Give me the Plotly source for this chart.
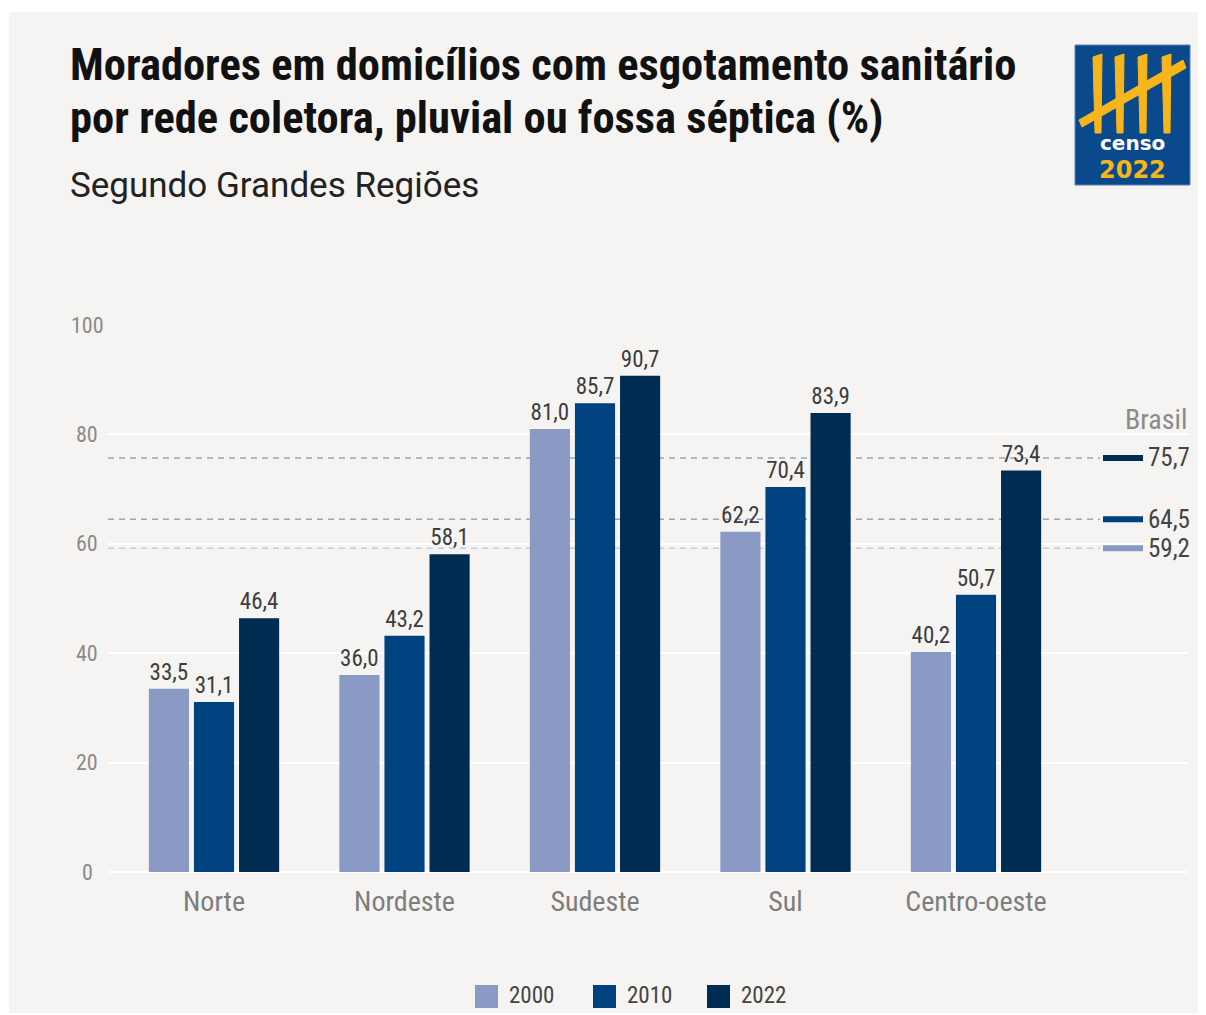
import plotly.graph_objects as go

# ---------------- data ----------------
regions = ["Norte", "Nordeste", "Sudeste", "Sul", "Centro-oeste"]
years = ["2000", "2010", "2022"]
v2000 = [33.5, 36.0, 81.0, 62.2, 40.2]
v2010 = [31.1, 43.2, 85.7, 70.4, 50.7]
v2022 = [46.4, 58.1, 90.7, 83.9, 73.4]
brasil = [59.2, 64.5, 75.7]          # 2000, 2010, 2022
y_ticks = [0, 20, 40, 60, 80, 100]

colors = ["#8a9ac5", "#00417f", "#002c51"]
dash_colors = ["#c3cbe3", "#93a7c0", "#93a7c0"]

FONT = "Roboto Condensed, Liberation Sans Narrow, DejaVu Sans Condensed, Arial Narrow, sans-serif"
FONT_SUB = "Roboto, Liberation Sans, sans-serif"

OFF = 8                      # page body margin
W, H = 1206 - OFF, 1013 - OFF
# plot area in page pixels
PL, PR, PT, PB = 108, 1188, 325, 872
L, R, T, B = PL - OFF, PR - OFF, PT - OFF, PB - OFF


def px(x):
    return (x - OFF - L) / (R - L)


def py(y):
    return (B - (y - OFF)) / (B - T)


def fmt(v):
    return f"{v:.1f}".replace(".", ",")


fig = go.Figure()
for name, vals, col in zip(years, [v2000, v2010, v2022], colors):
    fig.add_trace(go.Bar(
        x=regions, y=vals, name=name, marker=dict(color=col, line=dict(width=0)),
        text=[fmt(v) for v in vals], textposition="outside",
        textfont=dict(family=FONT, size=23, color="#3d3d3d"),
        cliponaxis=False, showlegend=False,
    ))

shapes = []
annotations = []

# thin white strips at top/left (page frame)
shapes.append(dict(type="rect", xref="paper", yref="paper", x0=px(8), x1=px(9), y0=py(8), y1=py(1013),
                   fillcolor="white", line=dict(width=0), layer="below"))
shapes.append(dict(type="rect", xref="paper", yref="paper", x0=px(8), x1=px(1206), y0=py(8), y1=py(12),
                   fillcolor="white", line=dict(width=0), layer="below"))

# Brasil reference lines
for val, dc, col in zip(brasil, dash_colors, colors):
    shapes.append(dict(type="line", xref="paper", yref="y", x0=0, x1=px(1100), y0=val, y1=val,
                       line=dict(color=dc, width=1.5, dash="6px,5px"), layer="between"))
    shapes.append(dict(type="line", xref="paper", yref="y", x0=px(1103), x1=px(1143), y0=val, y1=val,
                       line=dict(color=col, width=6), layer="above"))
    annotations.append(dict(xref="paper", yref="y", x=px(1146), y=val, text=fmt(val), showarrow=False,
                            xanchor="left", yanchor="middle",
                            font=dict(family=FONT, size=25, color="#444444")))
annotations.append(dict(xref="paper", yref="paper", x=px(1189), y=py(419), text="Brasil", showarrow=False,
                        xanchor="right", yanchor="middle",
                        font=dict(family=FONT, size=28, color="#8a8a8a")))

# y tick labels (centered like in the original)
for t in y_ticks:
    annotations.append(dict(xref="paper", yref="y", x=px(87), y=t, text=str(t), showarrow=False,
                            xanchor="center", yanchor="middle",
                            font=dict(family=FONT, size=22, color="#8a8a8a")))

# titles
annotations.append(dict(xref="paper", yref="paper", x=px(68), y=py(65),
                        text="<b>Moradores em domicílios com esgotamento sanitário</b>",
                        showarrow=False, xanchor="left", yanchor="middle",
                        font=dict(family=FONT, size=44.5, color="#111111")))
annotations.append(dict(xref="paper", yref="paper", x=px(68), y=py(118),
                        text="<b>por rede coletora, pluvial ou fossa séptica (%)</b>",
                        showarrow=False, xanchor="left", yanchor="middle",
                        font=dict(family=FONT, size=44.5, color="#111111")))
annotations.append(dict(xref="paper", yref="paper", x=px(68), y=py(186),
                        text="Segundo Grandes Regiões",
                        showarrow=False, xanchor="left", yanchor="middle",
                        font=dict(family=FONT_SUB, size=35, color="#222222")))

# manual legend
leg_x = [475, 593, 707]
for name, col, lx in zip(years, colors, leg_x):
    shapes.append(dict(type="rect", xref="paper", yref="paper", x0=px(lx), x1=px(lx + 23),
                       y0=py(1008), y1=py(985), fillcolor=col, line=dict(width=0)))
    annotations.append(dict(xref="paper", yref="paper", x=px(lx + 32), y=py(996), text=name,
                            showarrow=False, xanchor="left", yanchor="middle",
                            font=dict(family=FONT, size=23, color="#444444")))

# censo 2022 logo
shapes.append(dict(type="rect", xref="paper", yref="paper", x0=px(1075), x1=px(1190), y0=py(185), y1=py(45),
                   fillcolor="#0a4a8c", line=dict(color="#5a7fae", width=1)))
yel = "#f7b51c"
for sx in [1098, 1120, 1143, 1167]:
    shapes.append(dict(type="path", xref="paper", yref="paper",
                       path=f"M {px(sx-5)},{py(57)} L {px(sx+4)},{py(54)} L {px(sx+3)},{py(133)} L {px(sx-3)},{py(133)} Z",
                       fillcolor=yel, line=dict(color=yel, width=1)))
shapes.append(dict(type="path", xref="paper", yref="paper",
                   path=f"M {px(1079)},{py(120)} L {px(1183)},{py(60)} L {px(1186)},{py(68)} L {px(1082)},{py(127)} Z",
                   fillcolor=yel, line=dict(color=yel, width=1)))
annotations.append(dict(xref="paper", yref="paper", x=px(1132), y=py(143), text="<b>censo</b>", showarrow=False,
                        xanchor="center", yanchor="middle",
                        font=dict(family="DejaVu Sans, sans-serif", size=20, color="white")))
annotations.append(dict(xref="paper", yref="paper", x=px(1132), y=py(170), text="<b>2022</b>", showarrow=False,
                        xanchor="center", yanchor="middle",
                        font=dict(family="DejaVu Sans, sans-serif", size=24, color=yel)))

xr0 = -0.5 - (118.75 - PL) / 190.5
xr1 = 4 + (PR - 976) / 190.5

fig.update_layout(
    width=W, height=H,
    margin=dict(l=L, r=W - R, t=T, b=H - B),
    paper_bgcolor="#f5f4f2", plot_bgcolor="#f5f4f2",
    barmode="group", bargap=0.29, bargroupgap=0.11,
    showlegend=False,
    shapes=shapes, annotations=annotations,
    font=dict(family=FONT),
    xaxis=dict(range=[xr0, xr1], showgrid=False, zeroline=False, showline=False, ticks="",
               tickfont=dict(family=FONT, size=28, color="#7d7d7d"), ticklabelstandoff=10),
    yaxis=dict(range=[0, 100], tickvals=y_ticks, showticklabels=False, showgrid=True,
               gridcolor="white", gridwidth=2, zeroline=True, zerolinecolor="white", zerolinewidth=2,
               showline=False, ticks=""),
)

fig.write_html("out.html")
